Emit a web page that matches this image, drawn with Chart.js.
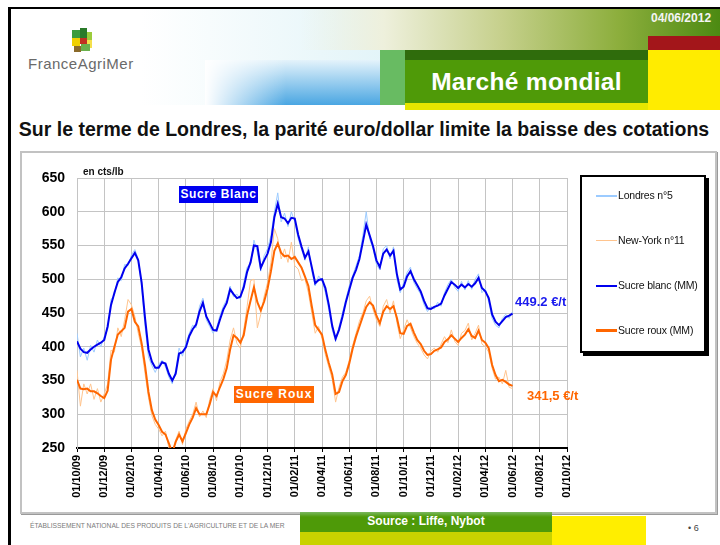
<!DOCTYPE html>
<html lang="fr">
<head>
<meta charset="utf-8">
<title>Marché mondial - sucre</title>
<script src="https://cdn.jsdelivr.net/npm/chart.js@4.4.1/dist/chart.umd.min.js"></script>
<style>
    html, body { margin: 0; padding: 0; }
    body { width: 720px; height: 545px; position: relative; overflow: hidden; background: #fff; font-family: "Liberation Sans", Arial, sans-serif; }
    .abs { position: absolute; }
    .logo-txt { left: 28px; top: 55px; font-size: 15px; color: #6a6a6a; letter-spacing: 0.5px; }
    .band-top { left: 300px; top: 9px; width: 420px; height: 41px; background: linear-gradient(to right, rgba(238,242,226,0), #eef0dc 20%, #c6d08c 48%, #8cae3c 76%, #4c8a12); }
    .band-cyan { left: 140px; top: 9px; width: 250px; height: 96px; background: linear-gradient(to right, rgba(255,255,255,1), rgba(226,244,248,1)); }
    .band-blue { left: 205px; top: 60px; width: 180px; height: 45px; background: linear-gradient(to right, rgba(255,255,255,1), rgba(255,255,255,0) 45%), linear-gradient(to bottom, #e4f3fb, #4aa6e2); }
    .date { left: 651px; top: 11px; font-size: 12px; font-weight: bold; color: #f4f4f4; }
    .box-title { left: 405px; top: 60px; width: 243px; height: 43px; background: #4f9a08; color: #fff; font-weight: bold; font-size: 24.5px; line-height: 43px; text-align: center; letter-spacing: 0.3px; }
    .title { left: 4px; top: 118px; width: 720px; text-align: center; font-size: 19.5px; font-weight: bold; color: #111; white-space: nowrap; }
    .frame { left: 20px; top: 151px; width: 697px; height: 363px; box-sizing: border-box; border: 2px solid #c2c2c2; box-shadow: 1px 1px 0 #9a9a9a; background: #fff; }
    #sucreChart { position: absolute; left: 22px; top: 153px; }
    .unit { left: 83px; top: 166px; font-size: 10px; font-weight: bold; color: #111; }
    .tag { color: #fff; font-weight: bold; font-size: 12px; text-align: center; height: 17px; line-height: 17px; }
    .legend { left: 580px; top: 175px; width: 126px; height: 178px; box-sizing: border-box; border: 2px solid #000; box-shadow: 3px 3px 0 #000; background: #fff; }
    .leg-line { position: absolute; left: 14px; width: 21px; }
    .leg-txt { position: absolute; left: 36px; font-size: 10.5px; color: #111; line-height: 12px; letter-spacing: -0.2px; }
    .foot-txt { left: 30px; top: 522px; font-size: 6.7px; color: #7a7a7a; white-space: nowrap; }
    .foot-green { left: 300px; top: 512px; width: 252px; height: 20px; background: linear-gradient(to bottom, #7ab860, #4e9a08 25%); color: #fff; font-weight: bold; font-size: 12px; line-height: 19px; text-align: center; }
</style>
</head>
<body>

<!-- slide frame -->
<div class="abs" style="left:8px;top:7px;width:712px;height:2px;background:#000"></div>
<div class="abs" style="left:8px;top:7px;width:3px;height:538px;background:#000"></div>

<!-- header -->
<div class="abs band-cyan"></div>
<div class="abs band-blue"></div>
<div class="abs band-top"></div>
<div class="abs date">04/06/2012</div>
<div class="abs" style="left:648px;top:36px;width:72px;height:14px;background:#a3161a"></div>
<div class="abs" style="left:648px;top:50px;width:72px;height:60px;background:#ffec00"></div>
<div class="abs" style="left:380px;top:50px;width:25px;height:55px;background:#68bb62"></div>
<div class="abs" style="left:405px;top:50px;width:243px;height:10px;background:#2f6c0c"></div>
<div class="abs box-title">Marché mondial</div>
<div class="abs" style="left:405px;top:103px;width:243px;height:7px;background:#e6e600"></div>

<!-- logo -->
<div class="abs" style="left:72px;top:30px;width:8px;height:8px;background:#3c9c3c"></div>
<div class="abs" style="left:80px;top:28px;width:7px;height:10px;background:#2a7a2a"></div>
<div class="abs" style="left:87px;top:32px;width:5px;height:8px;background:#9ccc3c"></div>
<div class="abs" style="left:72px;top:38px;width:8px;height:8px;background:#f0d000"></div>
<div class="abs" style="left:80px;top:38px;width:7px;height:6px;background:#c23022"></div>
<div class="abs" style="left:87px;top:40px;width:5px;height:8px;background:#f4e04c"></div>
<div class="abs" style="left:74px;top:46px;width:7px;height:6px;background:#8a6a2a"></div>
<div class="abs" style="left:81px;top:44px;width:9px;height:7px;background:#6ab04c"></div>
<div class="abs logo-txt">FranceAgriMer</div>

<div class="abs title">Sur le terme de Londres, la parité euro/dollar limite la baisse des cotations</div>

<!-- chart -->
<div class="abs frame"></div>
<canvas id="sucreChart" width="693" height="359"></canvas>
<div class="abs unit">en cts/lb</div>
<div class="abs tag" style="left:179px;top:186px;width:79px;background:#0000f0;letter-spacing:0.6px">Sucre Blanc</div>
<div class="abs tag" style="left:234px;top:386px;width:80px;background:#ff6600;letter-spacing:1px">Sucre Roux</div>
<div class="abs" style="left:515px;top:294px;font-size:13px;font-weight:bold;color:#1a1aee">449.2 €/t</div>
<div class="abs" style="left:527px;top:388px;font-size:13px;font-weight:bold;color:#ff6600">341,5 €/t</div>

<div class="abs legend" id="legend"></div>

<!-- footer -->
<div class="abs foot-txt">ÉTABLISSEMENT NATIONAL DES PRODUITS DE L'AGRICULTURE ET DE LA MER</div>
<div class="abs" style="left:300px;top:532px;width:252px;height:13px;background:#c8d200"></div>
<div class="abs" style="left:552px;top:516px;width:94px;height:29px;background:#ffee00"></div>
<div class="abs foot-green">Source : Liffe, Nybot</div>
<div class="abs" style="left:688px;top:523px;font-size:9px;color:#444">• 6</div>

<script>
// ── Data ─────────────────────────────────────────────────────
// one value per quarter of a month (about a week), from 01/10/09
const PAS_MOIS = 0.25;

const tickLabels = [
    "01/10/09", "01/12/09", "01/02/10", "01/04/10", "01/06/10", "01/08/10",
    "01/10/10", "01/12/10", "01/02/11", "01/04/11", "01/06/11", "01/08/11",
    "01/10/11", "01/12/11", "01/02/12", "01/04/12", "01/06/12", "01/08/12", "01/10/12"
];

const londres5 = [
    420, 385, 398, 380, 402, 392, 410, 400,
    415, 425, 470, 476, 502, 498, 522, 520,
    536, 544, 530, 488, 430, 385, 372, 362,
    374, 380, 370, 355, 345, 365, 398, 386,
    405, 420, 432, 428, 460, 472, 440, 430,
    420, 428, 446, 460, 470, 490, 474, 478,
    470, 495, 518, 522, 558, 540, 512, 535,
    545, 565, 600, 628, 585, 598, 578, 600,
    585, 560, 544, 528, 548, 512, 490, 505,
    498, 480, 455, 425, 408, 430, 450, 470,
    490, 505, 520, 535, 565, 600, 560, 545,
    522, 514, 545, 550, 530, 548, 500, 480,
    495, 510, 518, 495, 486, 478, 462, 452,
    460, 456, 466, 460, 480, 492, 500, 488,
    482, 497, 484, 498, 485, 500, 508, 480,
    486, 466, 442, 432, 428, 442, 448, 442,
    452
];

const newYork11 = [
    365, 312, 345, 330, 345, 322, 338, 318,
    330, 345, 395, 392, 428, 415, 440, 470,
    462, 445, 420, 398, 360, 325, 298, 285,
    278, 268, 275, 250, 240, 262, 275, 255,
    278, 290, 300, 318, 296, 305, 295, 322,
    338, 320, 348, 360, 380, 410, 428, 405,
    398, 425, 460, 498, 500, 428, 448, 475,
    495, 525, 575, 560, 530, 545, 525, 555,
    520, 515, 498, 500, 480, 450, 420, 430,
    412, 388, 370, 352, 318, 340, 355, 362,
    380, 402, 420, 438, 450, 468, 475, 455,
    440, 430, 460, 470, 450, 468, 436, 412,
    425, 440, 428, 415, 405, 398, 388, 382,
    394, 398, 392, 404, 415, 406, 425, 408,
    402, 420, 424, 435, 410, 420, 432, 404,
    400, 392, 368, 352, 355, 345, 365, 340,
    338
];

const sucreBlancMM = [
    408, 397, 392, 391, 396, 400, 403, 406,
    410, 430, 462, 480, 496, 503, 516, 523,
    531, 539, 528, 495, 442, 396, 378, 369,
    369, 377, 375, 360, 350, 360, 390, 392,
    399, 416, 426, 433, 452, 465, 445, 435,
    425, 424, 440, 455, 465, 485, 478, 472,
    474, 488, 511, 525, 550, 549, 517, 528,
    538, 555, 592, 612, 592, 590, 583, 591,
    590, 566, 548, 532, 541, 518, 494, 499,
    500, 487, 462, 431, 412, 425, 444, 466,
    484, 502, 514, 530, 555, 581, 565, 549,
    528, 518, 538, 544, 535, 542, 508, 485,
    489, 504, 512, 500, 491, 482, 468, 457,
    456, 459, 461, 464, 476, 486, 496, 492,
    487, 492, 488, 493, 489, 494, 502, 487,
    482, 472, 448, 437, 432, 438, 444, 446,
    449
];

const sucreRouxMM = [
    351, 338, 337, 338, 334, 334, 331, 327,
    324, 335, 381, 400, 418, 423, 428, 452,
    456, 437, 430, 405, 372, 333, 306, 292,
    284, 274, 270, 257, 243, 259, 270, 260,
    272, 285, 295, 309, 300, 300, 300, 315,
    333, 327, 340, 352, 368, 396, 417, 413,
    406, 417, 447, 468, 488, 466, 454, 467,
    486, 512, 542, 553, 539, 534, 535, 530,
    533, 525, 517, 504, 490, 460, 432, 425,
    418, 395, 376, 359, 330, 333, 349, 358,
    375, 397, 415, 430, 445, 459, 466, 461,
    446, 435, 452, 460, 456, 460, 443, 420,
    419, 431, 434, 421, 410, 404, 394, 388,
    389, 394, 396, 399, 407, 411, 417, 412,
    407, 413, 418, 426, 416, 413, 424, 410,
    406, 398, 373, 358, 349, 351, 348, 344,
    342
];

// ── Series styles ────────────────────────────────────────────
const SERIES = [
    { label: "Londres n°5",      values: londres5,     color: "#9ccbff", width: 1, order: 2, legendW: 2 },
    { label: "New-York n°11",    values: newYork11,    color: "#ffc48e", width: 1, order: 3, legendW: 1 },
    { label: "Sucre blanc (MM)", values: sucreBlancMM, color: "#0000ee", width: 2, order: 0, legendW: 2 },
    { label: "Sucre roux (MM)",  values: sucreRouxMM,  color: "#ff6600", width: 2, order: 1, legendW: 3 },
];

const FONT = "'Liberation Sans', Arial, sans-serif";
const toPoints = (vals) => vals.map((v, i) => ({ x: i * PAS_MOIS, y: v }));

// ── Chart ────────────────────────────────────────────────────
const ctx = document.getElementById("sucreChart").getContext("2d");
new Chart(ctx, {
    type: "line",
    data: {
        datasets: SERIES.map(s => ({
            label: s.label,
            data: toPoints(s.values),
            borderColor: s.color,
            borderWidth: s.width,
            order: s.order,
            pointRadius: 0,
            tension: 0,
            fill: false,
        }))
    },
    options: {
        responsive: false,
        animation: false,
        events: [],
        layout: { padding: { left: 0, top: 25, right: 148, bottom: 0 } },
        plugins: { legend: { display: false }, tooltip: { enabled: false } },
        scales: {
            x: {
                type: "linear",
                min: 0,
                max: 36,
                ticks: {
                    stepSize: 2,
                    autoSkip: false,
                    minRotation: 90,
                    maxRotation: 90,
                    padding: 3,
                    color: "#000",
                    font: { family: FONT, size: 11, weight: "bold" },
                    callback: v => tickLabels[Math.round(v / 2)]
                },
                grid: { color: "#c4c4c4", lineWidth: 1, tickLength: 4, tickColor: "#000" },
                border: { color: "#000", width: 2 },
                afterFit: s => { s.height = 64; }
            },
            y: {
                min: 250,
                max: 650,
                ticks: {
                    stepSize: 50,
                    padding: 12,
                    color: "#000",
                    font: { family: FONT, size: 14, weight: "bold" }
                },
                grid: { color: "#c4c4c4", lineWidth: 1, drawTicks: false },
                border: { color: "#c4c4c4", width: 1 },
                afterFit: s => { s.width = 55; }
            }
        }
    }
});

// ── Legend (boxed, right of the plot) ────────────────────────
const legend = document.getElementById("legend");
SERIES.forEach((s, i) => {
    const cy = 19 + i * 45;
    const line = document.createElement("div");
    line.className = "leg-line";
    line.style.top = `${cy - Math.ceil(s.legendW / 2)}px`;
    line.style.height = `${s.legendW}px`;
    line.style.background = s.color;
    const txt = document.createElement("div");
    txt.className = "leg-txt";
    txt.style.top = `${cy - 7}px`;
    txt.textContent = s.label;
    legend.appendChild(line);
    legend.appendChild(txt);
});
</script>
</body>
</html>
